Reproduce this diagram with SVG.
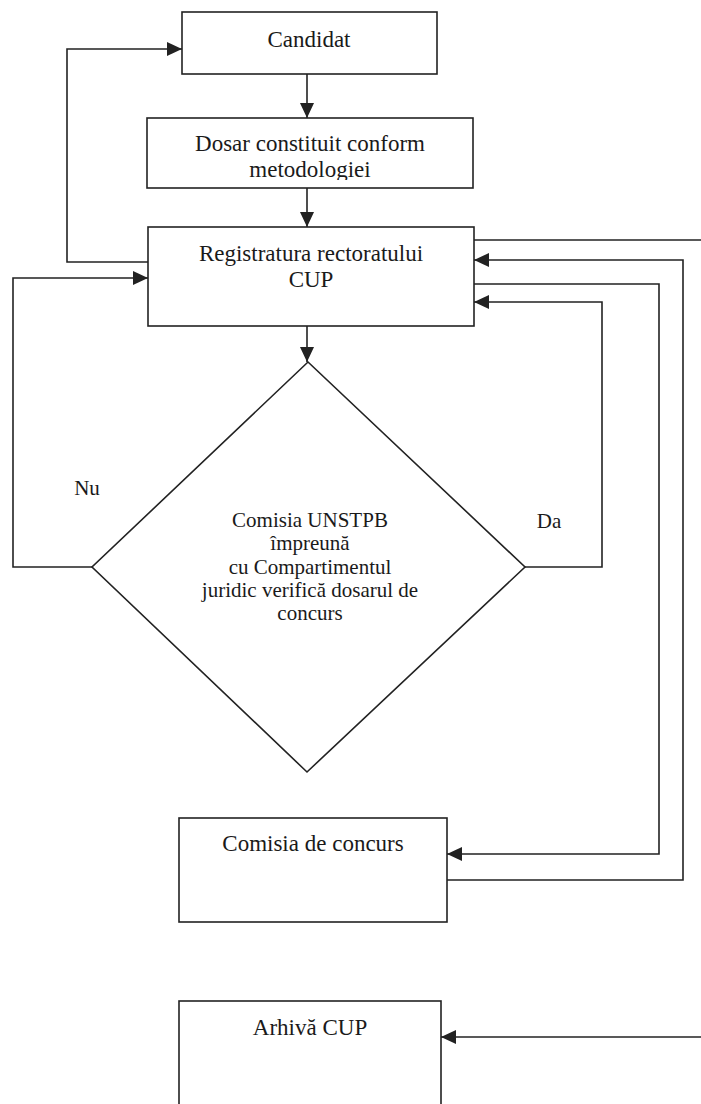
<svg xmlns="http://www.w3.org/2000/svg" width="701" height="1104" viewBox="0 0 701 1104">
<style>
.box{fill:#fff;stroke:#222;stroke-width:1.6}
.t{font-family:"Liberation Serif","Times New Roman",serif;font-size:23px;fill:#1a1a1a;text-anchor:middle}
.td{font-family:"Liberation Serif","Times New Roman",serif;font-size:21px;fill:#1a1a1a;text-anchor:middle}
.c{fill:none;stroke:#222;stroke-width:1.6}
</style>
<defs>
<marker id="ah" viewBox="0 0 15 14" refX="15" refY="7" markerWidth="15" markerHeight="14" markerUnits="userSpaceOnUse" orient="auto">
<path d="M0,0 L15,7 L0,14 Z" fill="#222"/>
</marker>
<clipPath id="dclip"><rect x="147" y="118" width="326" height="62"/></clipPath>
</defs>
<rect width="701" height="1104" fill="#fff"/>
<g id="connectors">
<path class="c" d="M307,74 V118" marker-end="url(#ah)"/>
<path class="c" d="M307,188 V227" marker-end="url(#ah)"/>
<path class="c" d="M307,326 V362" marker-end="url(#ah)"/>
<path class="c" d="M148,262 H67 V49 H182" marker-end="url(#ah)"/>
<path class="c" d="M92,567 H13 V278 H148" marker-end="url(#ah)"/>
<path class="c" d="M525,567 H602 V302 H474" marker-end="url(#ah)"/>
<path class="c" d="M474,284 H659 V854 H447" marker-end="url(#ah)"/>
<path class="c" d="M447,880 H683 V260 H474" marker-end="url(#ah)"/>
<path class="c" d="M474,240 H702"/>
<path class="c" d="M702,1037 H441" marker-end="url(#ah)"/>
</g>
<g id="candidat">
<rect class="box" x="182" y="12" width="255" height="62"/>
<text class="t" x="309" y="47">Candidat</text>
</g>
<g id="dosar">
<rect class="box" x="147" y="118" width="326" height="70"/>
<g clip-path="url(#dclip)">
<text class="t" x="310" y="151">Dosar constituit conform</text>
<text class="t" x="310" y="177">metodologiei</text>
</g>
</g>
<g id="registratura">
<rect class="box" x="148" y="227" width="326" height="99"/>
<text class="t" x="311" y="261">Registratura rectoratului</text>
<text class="t" x="311" y="287">CUP</text>
</g>
<g id="verificare">
<polygon class="box" points="308,362 525,567 307,772 92,567"/>
<text class="td" x="310" y="527">Comisia UNSTPB</text>
<text class="td" x="310" y="550">împreună</text>
<text class="td" x="310" y="574">cu Compartimentul</text>
<text class="td" x="310" y="597">juridic verifică dosarul de</text>
<text class="td" x="310" y="620">concurs</text>
</g>
<g id="labels">
<text class="td" x="87" y="495">Nu</text>
<text class="td" x="549" y="528">Da</text>
</g>
<g id="comisia-concurs">
<rect class="box" x="179" y="818" width="268" height="104"/>
<text class="t" x="313" y="851">Comisia de concurs</text>
</g>
<g id="arhiva">
<rect class="box" x="179" y="1001" width="262" height="115"/>
<text class="t" x="310" y="1035">Arhivă CUP</text>
</g>
</svg>
